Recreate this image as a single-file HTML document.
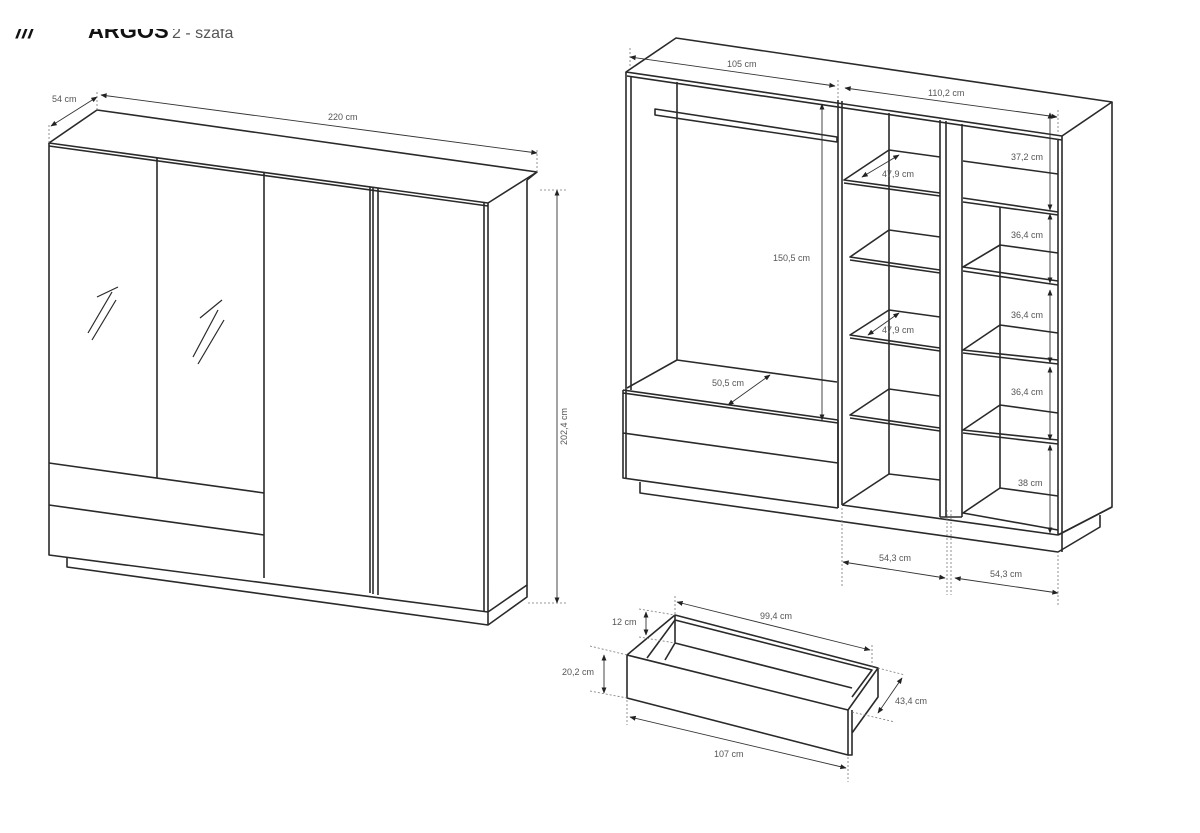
<!DOCTYPE html>
<html><head><meta charset="utf-8"><style>
html,body{margin:0;padding:0;background:#fff;width:1200px;height:833px;overflow:hidden}
svg{position:absolute;left:0;top:0}
text{font-family:"Liberation Sans",sans-serif;font-size:9px;fill:#555}
</style></head><body>
<svg width="1200" height="833" viewBox="0 0 1200 833">
<defs>
<marker id="a" viewBox="0 0 10 10" refX="9" refY="5" markerWidth="7" markerHeight="7" orient="auto-start-reverse"><path d="M0,1 L10,5 L0,9z" fill="#222"/></marker>
</defs>
<!-- title cut off -->
<text x="16" y="38" style="font-size:22px;font-weight:bold;fill:#111;font-style:italic">///</text>
<text x="88" y="38" style="font-size:22px;font-weight:bold;fill:#111">ARGOS</text>
<text x="172" y="38" style="font-size:16px;fill:#555">2 - szafa</text>
<rect x="0" y="0" width="400" height="29" fill="#fff"/>

<g fill="none" stroke="#2a2a2a" stroke-width="1.6" stroke-linejoin="round">
<!-- LEFT WARDROBE -->
<path d="M49,143 L97,110 L537,172 L488,203 Z"/>
<path d="M49,146 L488,206"/>
<path d="M49,143 L49,555 L488,612"/>
<path d="M488,203 L488,625 M527,180 L527,585 L488,612 M537,172 L527,180"/>
<path d="M67,557 L67,567 L488,625 L527,597 L527,585"/>
<path d="M157,158 L157,478 M264,172 L264,578 M370,187 L370,593 M373,187 L373,594 M378,188 L378,595 M484,203 L484,611"/>
<path d="M49,463 L264,493 M49,505 L264,535"/>
<path d="M97,297 L118,287 M88,333 L112,292 M92,340 L116,300" stroke-width="1.2"/>
<path d="M200,318 L222,300 M193,357 L218,310 M198,364 L224,320" stroke-width="1.2"/>

<!-- RIGHT WARDROBE -->
<path d="M626,72 L676,38 L1112,102 L1062,136 Z"/>
<path d="M627,76 L1062,140"/>
<path d="M626,72 L626,478 M631,76 L631,390 M677,82 L677,360"/>
<path d="M1062,136 L1062,552 M1058,140 L1058,535 M1112,102 L1112,507 L1058,535"/>
<path d="M655,109 L837,137 L837,142 L655,115 Z"/>
<path d="M838,100 L838,508 M842,101 L842,505 M889,113 L889,474"/>
<path d="M940,120 L940,517 M946,121 L946,517 M962,124 L962,517 M940,517 L962,517 M1000,207 L1000,488"/>
<!-- left compartment -->
<path d="M677,360 L837,382 M677,360 L627,388 M623,390 L838,420 M623,393 L838,423 M623,433 L838,463 M623,390 L623,478 L838,508 M838,420 L838,508"/>
<path d="M640,482 L640,493 L1058,552 L1100,527 L1100,515 M1058,535 L1112,507"/>
<path d="M842,505 L1058,535"/>
<!-- middle shelves -->
<path d="M889,150 L940,157 M889,150 L844,180 L940,193 M844,183 L940,196"/>
<path d="M889,230 L940,237 M889,230 L850,257 L940,270 M850,260 L940,273"/>
<path d="M889,310 L940,317 M889,310 L850,335 L940,348 M850,338 L940,351"/>
<path d="M889,389 L940,396 M889,389 L850,415 L940,428 M850,418 L940,431"/>
<path d="M889,474 L940,480 M889,474 L842,505"/>
<!-- right shelves -->
<path d="M963,161 L1058,174 M963,198 L1058,212 M963,202 L1058,215"/>
<path d="M1000,245 L1058,253 M1000,245 L963,267 L1058,281 M963,271 L1058,285"/>
<path d="M1000,325 L1058,333 M1000,325 L963,350 L1058,360 M963,353 L1058,364"/>
<path d="M1000,405 L1058,413 M1000,405 L963,430 L1058,440 M963,433 L1058,444"/>
<path d="M1000,488 L1058,496 M1000,488 L963,513 L1058,530"/>

<!-- DRAWER -->
<path d="M627,655 L627,698 L848,755 L848,710 Z"/>
<path d="M627,655 L675,615 L878,668 L848,710 M647,658 L675,620 L872,670 L852,697"/>
<path d="M665,660 L675,643 L852,688 M675,615 L675,643"/>
<path d="M878,668 L878,697 L852,733 M852,710 L852,755 L848,755"/>
</g>

<!-- dimension lines -->
<g stroke="#333" stroke-width="0.9" fill="none" marker-start="url(#a)" marker-end="url(#a)">
<path d="M51,126 L97,97"/>
<path d="M101,95 L537,153"/>
<path d="M557,190 L557,603"/>
<path d="M630,57 L835,86"/>
<path d="M845,88 L1057,117"/>
<path d="M822,104 L822,420"/>
<path d="M862,177 L899,155"/>
<path d="M868,335 L899,313"/>
<path d="M728,405 L770,375"/>
<path d="M1050,113 L1050,210"/>
<path d="M1050,214 L1050,283"/>
<path d="M1050,290 L1050,363"/>
<path d="M1050,367 L1050,440"/>
<path d="M1050,445 L1050,533"/>
<path d="M843,562 L945,578"/>
<path d="M955,578 L1058,593"/>
<path d="M646,612 L646,635"/>
<path d="M604,655 L604,693"/>
<path d="M677,602 L870,650"/>
<path d="M630,717 L846,768"/>
<path d="M878,713 L902,678"/>
</g>
<g stroke="#777" stroke-width="0.8" stroke-dasharray="2,2" fill="none">
<path d="M49,125 L49,143 M97,92 L97,110 M537,150 L537,172 M540,190 L566,190 M528,603 L566,603"/>
<path d="M630,48 L630,68 M838,80 L838,100 M1058,110 L1058,132"/>
<path d="M842,508 L842,586 M947,510 L947,595 M951,510 L951,595 M1058,555 L1058,606"/>
<path d="M675,596 L675,615 M872,645 L872,668 M627,700 L627,725 M848,757 L848,782"/>
<path d="M639,609 L675,615 M639,637 L675,643 M590,646 L627,655 M590,691 L627,698 M878,668 L905,675 M852,712 L895,722"/>
</g>

<g>
<text x="52" y="102">54 cm</text>
<text x="328" y="120">220 cm</text>
<text x="567" y="445" transform="rotate(-90 567 445)">202,4 cm</text>
<text x="727" y="67">105 cm</text>
<text x="928" y="96">110,2 cm</text>
<text x="773" y="261">150,5 cm</text>
<text x="882" y="177">47,9 cm</text>
<text x="882" y="333">47,9 cm</text>
<text x="712" y="386">50,5 cm</text>
<text x="1011" y="160">37,2 cm</text>
<text x="1011" y="238">36,4 cm</text>
<text x="1011" y="318">36,4 cm</text>
<text x="1011" y="395">36,4 cm</text>
<text x="1018" y="486">38 cm</text>
<text x="879" y="561">54,3 cm</text>
<text x="990" y="577">54,3 cm</text>
<text x="612" y="625">12 cm</text>
<text x="562" y="675">20,2 cm</text>
<text x="760" y="619">99,4 cm</text>
<text x="895" y="704">43,4 cm</text>
<text x="714" y="757">107 cm</text>
</g>
</svg>
</body></html>
